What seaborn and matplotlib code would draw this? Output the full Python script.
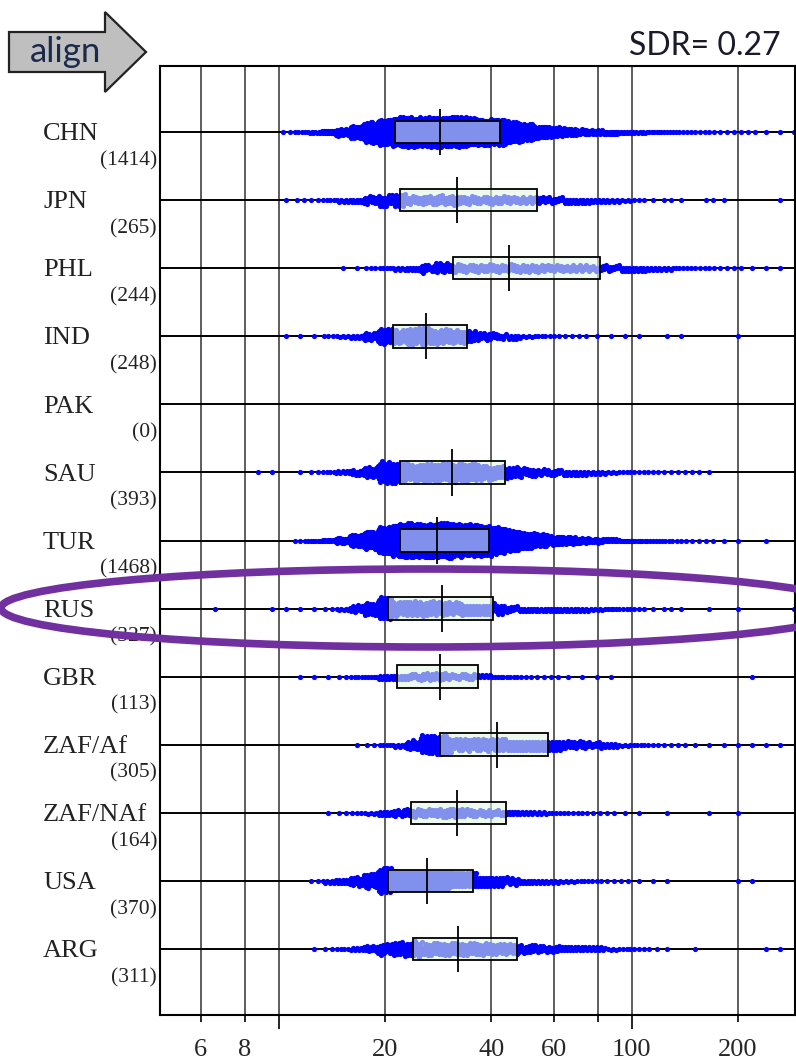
import warnings
import matplotlib
matplotlib.use("Agg")
import numpy as np
import pandas as pd
import matplotlib.pyplot as plt
import matplotlib.transforms as mtransforms
from matplotlib.patches import Polygon, Ellipse
from matplotlib.ticker import FixedLocator, FixedFormatter
import seaborn as sns

warnings.filterwarnings("ignore")

# ---------------- data ----------------
countries = ["CHN", "JPN", "PHL", "IND", "PAK", "SAU", "TUR", "RUS",
             "GBR", "ZAF/Af", "ZAF/NAf", "USA", "ARG"]

# box statistics (first quartile, median, third quartile)
q1_vals  = [21.3, 22.0, 31.1, 21.0, np.nan, 22.0, 22.0, 20.4, 21.6, 28.6, 23.7, 20.4, 24.0]
med_vals = [28.6, 31.9, 45.0, 26.1, np.nan, 30.9, 28.0, 29.0, 28.6, 41.4, 31.9, 26.3, 32.1]
q3_vals  = [42.2, 54.0, 81.0, 34.0, np.nan, 43.6, 39.3, 40.3, 36.6, 58.0, 44.1, 35.4, 47.4]

# point counts per log10 bin (bin k covers log10 value 0.80+0.04k .. 0.84+0.04k)
bin_lo = 0.80
bin_w = 0.04
counts_CHN = [0,0,0,0,0,2,4,8,14,25,45,70,95,103,105,105,105,105,100,95,90,75,60,45,35,28,22,17,13,10,8,6,5,4,3,3,2,2,2,1,1,1]
counts_JPN = [0,0,0,0,0,1,2,2,4,6,9,14,18,20,14,15,15,15,14,13,13,12,11,11,10,9,8,7,6,5,3,1,2,1,0,2,1,0,0,0,1,0]
counts_PHL = [0,0,0,0,0,0,0,0,0,1,1,3,4,6,9,13,16,14,13,13,13,13,12,12,12,11,11,10,10,9,8,7,6,4,3,3,2,2,1,1,1,0]
counts_IND = [0,0,0,0,0,1,1,1,3,5,7,14,25,22,25,26,24,22,18,13,10,8,5,4,3,2,2,1,1,1,1,0,1,1,0,0,0,1,0,0,0,0]
counts_PAK = [0] * 42
counts_SAU = [0,0,0,1,1,0,1,2,4,7,10,17,32,30,28,29,29,29,28,25,22,18,15,12,10,8,7,6,5,4,3,3,2,2,2,1,0,0,0,0,0,0]
counts_TUR = [0,0,0,0,0,0,3,6,12,22,40,65,95,115,120,120,120,118,113,106,96,75,58,45,34,26,20,15,11,8,6,5,4,3,2,2,1,1,0,1,0,0]
counts_RUS = [1,0,0,0,1,1,1,1,2,6,12,22,38,23,24,24,23,21,19,17,15,10,9,8,9,8,7,6,5,4,3,1,2,1,0,1,0,1,0,0,0,1]
counts_GBR = [0,0,0,0,0,0,1,1,1,2,4,5,8,9,10,12,12,10,10,7,5,4,3,2,2,1,1,1,1,0,0,0,0,0,0,0,0,0,1,0,0,0]
counts_ZAF_Af = [0,0,0,0,0,0,0,0,0,0,1,2,4,6,16,30,30,20,20,20,20,19,18,17,16,14,12,10,7,5,4,3,2,2,1,1,1,1,1,1,1,0]
counts_ZAF_NAf = [0,0,0,0,0,0,0,0,1,2,3,5,8,11,14,14,15,15,13,12,10,9,7,6,4,3,3,2,2,1,1,0,1,0,0,1,0,1,0,0,0,0]
counts_USA = [0,0,0,0,0,0,0,2,6,9,15,25,40,33,33,33,31,28,26,19,15,12,9,7,6,5,4,3,2,2,1,1,1,0,0,0,0,1,1,0,0,0]
counts_ARG = [0,0,0,0,0,0,0,1,2,4,7,11,17,22,24,22,22,22,21,20,18,17,15,13,11,9,8,7,5,4,3,2,1,0,1,0,0,0,0,1,1,0]

counts_all = [counts_CHN, counts_JPN, counts_PHL, counts_IND, counts_PAK, counts_SAU,
              counts_TUR, counts_RUS, counts_GBR, counts_ZAF_Af, counts_ZAF_NAf,
              counts_USA, counts_ARG]

major_ticks = [10, 100]
major_labels = ["", "100"]
minor_ticks = [6, 8, 20, 40, 60, 80, 200]
minor_labels = ["6", "8", "20", "40", "60", "", "200"]
sdr_text = "SDR= 0.27"
arrow_text = "align"

# marker size used for the swarm layout of each row (style, not data)
swarm_sizes = {"CHN": 1.4, "TUR": 1.4}
default_swarm_size = 2.1

# ---------------- build long table ----------------
rows = []
for c, cnts in zip(countries, counts_all):
    for k, n in enumerate(cnts):
        for i in range(n):
            rows.append((c, 10 ** (bin_lo + bin_w * (k + (i + 0.5) / n))))
df = pd.DataFrame(rows, columns=["country", "value"])
n_per = [sum(c) for c in counts_all]

# ---------------- figure ----------------
sns.set_style("white")
W, H = 796, 1063
fig = plt.figure(figsize=(W / 100, H / 100), dpi=100)
ax = fig.add_axes([160 / W, 1 - 1015 / H, 635 / W, (1015 - 66) / H])

for c in countries:
    sub = df[df["country"] == c]
    if len(sub) == 0:
        continue
    sns.swarmplot(data=sub, x="value", y="country", order=countries, orient="h",
                  color="#0000ff", size=swarm_sizes.get(c, default_swarm_size),
                  linewidth=0, log_scale=True, ax=ax, zorder=2, warn_thresh=1.0)

ax.set_xlim(4.6, 290)
ax.set_ylim(len(countries) - 1 + 0.97, -0.97)

# boxes
pos = np.arange(len(countries))
stats, spos = [], []
for p, a, m, b in zip(pos, q1_vals, med_vals, q3_vals):
    if np.isnan(m):
        continue
    stats.append(dict(med=m, q1=a, q3=b, whislo=a, whishi=b, fliers=[]))
    spos.append(p)
bkw = dict(positions=spos, widths=0.33, patch_artist=True, showcaps=False,
           showfliers=False, manage_ticks=False, zorder=3,
           boxprops=dict(facecolor=(0.88, 0.97, 0.88, 0.58), edgecolor="black", linewidth=1.3),
           whiskerprops=dict(linewidth=0), medianprops=dict(linewidth=0))
try:
    ax.bxp(stats, orientation="horizontal", **bkw)
except TypeError:
    ax.bxp(stats, vert=False, **bkw)

mv = np.array(med_vals)
ok = ~np.isnan(mv)
ax.vlines(mv[ok], pos[ok] - 0.34, pos[ok] + 0.34, color="black", lw=1.3, zorder=4)

for p in pos:
    ax.axhline(p, color="black", lw=1.4, zorder=1.5)

# axis ticks / grid
ax.xaxis.set_major_locator(FixedLocator(major_ticks))
ax.xaxis.set_major_formatter(FixedFormatter(major_labels))
ax.xaxis.set_minor_locator(FixedLocator(minor_ticks))
ax.xaxis.set_minor_formatter(FixedFormatter(minor_labels))
ax.tick_params(axis="x", which="major", length=10, width=1.2, pad=7, labelsize=19,
               direction="out", bottom=True, color="black")
ax.tick_params(axis="x", which="minor", length=5, width=1.2, pad=12, labelsize=19,
               direction="out", bottom=True, color="black")
for lab in ax.get_xticklabels(which="both"):
    lab.set_family("Liberation Serif")
ax.grid(True, which="both", axis="x", color="#505050", lw=1.3, zorder=0.5)
ax.grid(False, axis="y")
ax.set_yticks([])
ax.set_xlabel("")
ax.set_ylabel("")
for s in ax.spines.values():
    s.set_visible(True)
    s.set_color("black")
    s.set_linewidth(1.5)

# row labels
tr = mtransforms.blended_transform_factory(fig.transFigure, ax.transData)
for p, c, n in zip(pos, countries, n_per):
    fig.text(43 / W, p + 0.12, c, transform=tr, ha="left", va="baseline",
             fontsize=19, family="Liberation Serif", color="#222222")
    fig.text(157 / W, p + 0.42, f"({n})", transform=tr, ha="right", va="center",
             fontsize=15.5, family="Liberation Serif", color="#222222")

# arrow annotation
arrow_px = [(9, 32), (105, 32), (105, 12), (146, 52), (105, 92), (105, 72), (9, 72)]
fig.patches.append(Polygon([(x / W, 1 - y / H) for x, y in arrow_px], closed=True,
                           transform=fig.transFigure, facecolor="#bfbfbf",
                           edgecolor="#222222", lw=1.6))
fig.text(66 / W, 1 - 52 / H, arrow_text, ha="center", va="center", fontsize=25,
         family="Lato", color="#1a2a4a")
fig.text(781 / W, 1 - 46 / H, sdr_text, ha="right", va="center", fontsize=23,
         family="Lato", color="#1a1a2a")

# highlight ellipse around RUS
fig.patches.append(Ellipse((426 / W, 1 - 608 / H), 2 * 425 / W, 2 * 39 / H,
                           transform=fig.transFigure, fill=False,
                           edgecolor="#7030a0", lw=5.5, zorder=10))

# compute the swarm with small markers, then enlarge the markers so they overlap
fig.canvas.draw()
for coll in ax.collections:
    if "draw" in coll.__dict__:
        del coll.__dict__["draw"]
        coll.set_sizes([14])

fig.savefig("out.png", dpi=100)
